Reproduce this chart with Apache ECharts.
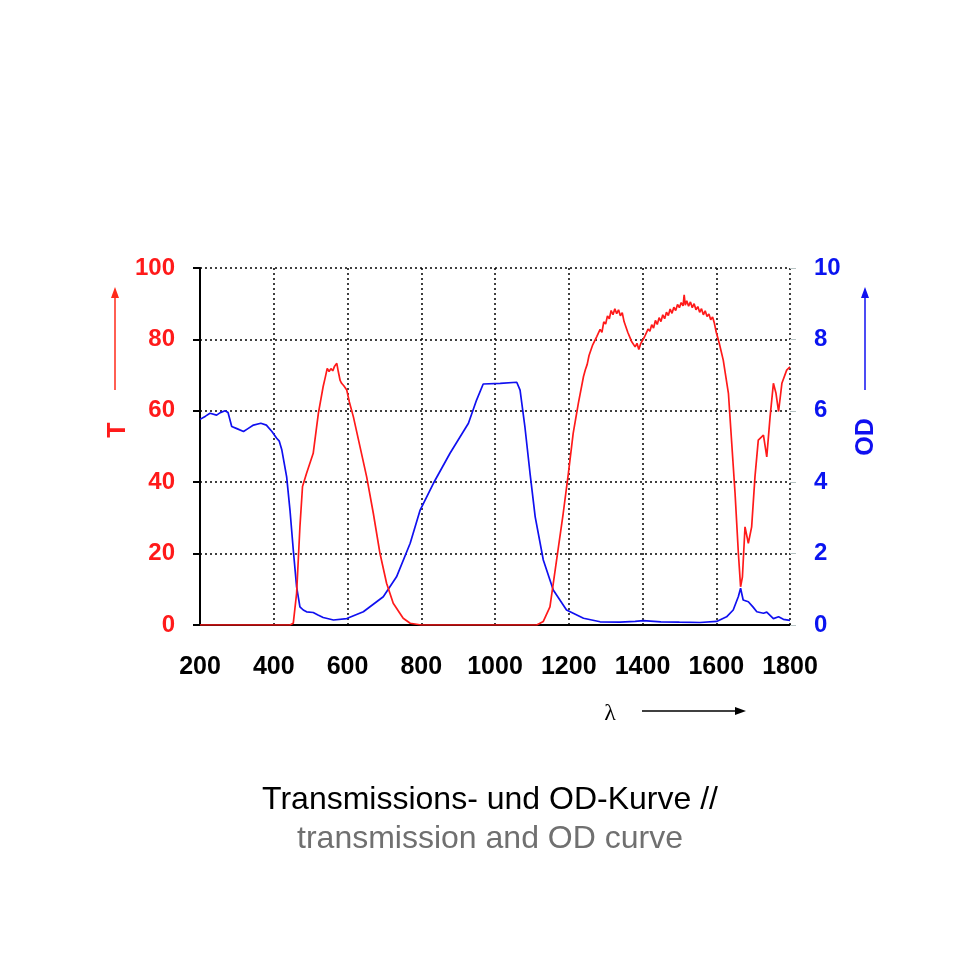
<!DOCTYPE html>
<html><head><meta charset="utf-8">
<script src="https://cdn.jsdelivr.net/npm/echarts@6/dist/echarts.min.js"></script>
<style>html,body{margin:0;padding:0;background:#fff}#c{width:980px;height:980px}</style>
</head><body><div id="c"></div>
<script>
// Wavelength (nm) and OD (blue, right axis)
const odWavelength = [200,215,227,245,255,268,276,286,300,318,330,345,365,380,395,408,415,422,435,444,453,462,471,480,489,507,520,534,562,598,643,697,733,770,797,833,878,928,950,968,1014,1059,1068,1081,1095,1109,1131,1158,1194,1240,1285,1339,1380,1402,1450,1500,1556,1601,1628,1646,1660,1666,1673,1687,1700,1710,1728,1737,1755,1769,1782,1800];
const odValues     = [5.76,5.85,5.93,5.88,5.95,6.0,5.95,5.56,5.5,5.42,5.5,5.6,5.65,5.6,5.42,5.23,5.15,4.9,4.15,3.22,2.1,1.07,0.51,0.42,0.37,0.35,0.28,0.21,0.14,0.18,0.37,0.79,1.35,2.29,3.22,3.97,4.81,5.65,6.3,6.75,6.77,6.8,6.58,5.56,4.25,3.03,1.82,0.98,0.42,0.19,0.09,0.08,0.1,0.12,0.09,0.08,0.07,0.1,0.23,0.42,0.8,1.03,0.7,0.65,0.5,0.37,0.33,0.36,0.18,0.23,0.16,0.13];
// Wavelength (nm) and transmission T in % (red, left axis)
const tWavelength = [200,444,453,462,471,478,489,507,521,534,540,545,550,555,560,565,571,575,580,584,590,598,605,616,634,652,670,688,706,724,751,770,800,1100,1113,1131,1149,1167,1185,1199,1212,1226,1240,1245,1250,1255,1260,1265,1270,1276,1280,1285,1290,1295,1300,1305,1310,1315,1320,1325,1330,1335,1340,1345,1350,1355,1360,1365,1370,1375,1380,1385,1390,1395,1400,1405,1410,1415,1420,1425,1430,1435,1440,1445,1450,1455,1460,1465,1470,1475,1480,1485,1490,1495,1500,1505,1510,1513,1516,1520,1525,1530,1535,1540,1545,1550,1555,1560,1565,1570,1575,1580,1585,1590,1595,1600,1608,1619,1633,1642,1651,1660,1666,1671,1678,1687,1696,1705,1714,1728,1737,1746,1755,1762,1769,1778,1791,1800];
const tValues     = [0,0,0.5,8.9,27.5,38.8,42.5,48.1,59.3,66.8,69.5,71.9,71.0,71.8,71.2,72.5,73.3,71.0,68.5,67.7,67.0,65.8,62.5,58.3,49.9,41.5,31.3,20.1,11.7,6.1,1.9,0.5,0,0,0,1,5.1,18.2,31.3,42.5,53.7,62.1,69.6,71.5,73.0,75.5,76.0,78.5,79.0,80.8,80.5,82.8,82.0,84.9,84.3,86.6,85.8,88.1,86.9,88.6,87.2,88.3,86.6,87.5,85.0,84.6,82.0,81.9,79.5,79.8,77.9,78.9,77.2,78.8,78.4,80.6,80.4,82.9,82.3,84.1,83.2,85.3,84.2,86.1,85.0,86.9,85.8,87.6,86.7,88.5,87.3,89.0,88.1,89.8,88.9,90.3,89.4,92.5,89.6,90.8,89.3,90.5,88.9,90.0,88.3,89.2,87.6,88.6,86.9,88.0,86.4,87.1,85.5,86.3,84.5,82.0,79.0,74.2,64.9,50.9,36.9,20.1,10.7,13.5,27.5,22.9,27.5,41.5,51.8,53.2,47.1,58.3,67.7,64.9,59.8,67.7,71.4,72.3];
// Tick ranges
const xTicks = {min:200, max:1800, step:200};
const tTicks = {min:0, max:100, step:20};
const odTicks = {min:0, max:10, step:2};

const chart = echarts.init(document.getElementById('c'), null, {renderer:'canvas'});
const dotted = {color:'#000', width:1.5, type:[2,3]};
const arrowHead = (x, y, dir, color) => {
  let pts;
  if (dir === 'up') pts = [[x, y], [x-4, y+11], [x+4, y+11]];
  else pts = [[x, y], [x-11, y-4], [x-11, y+4]];
  return {type:'polygon', shape:{points:pts}, style:{fill:color}};
};
chart.setOption({
  animation:false,
  backgroundColor:'#fff',
  grid:{left:200, top:268, width:590, height:357},
  xAxis:{type:'value', min:xTicks.min, max:xTicks.max, interval:xTicks.step,
    axisLine:{show:true, onZero:false, lineStyle:{color:'#000', width:2}},
    axisTick:{show:false},
    axisLabel:{color:'#000', fontFamily:'"Liberation Sans",Arial', fontWeight:'bold', fontSize:25, margin:30, formatter:v=>String(v)},
    splitLine:{show:true, lineStyle:dotted}},
  yAxis:[
    {type:'value', min:tTicks.min, max:tTicks.max, interval:tTicks.step, position:'left',
      axisLine:{show:true, lineStyle:{color:'#000', width:2}},
      axisTick:{show:true, inside:false, length:7, lineStyle:{color:'#000', width:2}},
      axisLabel:{color:'#ff1a1a', fontFamily:'"Liberation Sans",Arial', fontWeight:'bold', fontSize:24, margin:25},
      splitLine:{show:true, lineStyle:dotted}},
    {type:'value', min:odTicks.min, max:odTicks.max, interval:odTicks.step, position:'right',
      axisLine:{show:false},
      axisTick:{show:true, inside:false, length:6, lineStyle:{color:'#b8c4c4', width:1}},
      axisLabel:{color:'#0a14f0', fontFamily:'"Liberation Sans",Arial', fontWeight:'bold', fontSize:24, margin:24},
      splitLine:{show:false}}
  ],
  series:[
    {type:'line', yAxisIndex:1, showSymbol:false, symbol:'none',
      data:odWavelength.map((w,i)=>[w, odValues[i]]),
      lineStyle:{color:'#1010f0', width:1.7}, z:3},
    {type:'line', yAxisIndex:0, showSymbol:false, symbol:'none',
      data:tWavelength.map((w,i)=>[w, tValues[i]]),
      lineStyle:{color:'#ff1a1a', width:1.7}, z:4}
  ],
  graphic:[
    {type:'line', shape:{x1:115, y1:390, x2:115, y2:296}, style:{stroke:'#ff2a1a', lineWidth:1.5}},
    arrowHead(115, 287, 'up', '#ff2a1a'),
    {type:'text', x:118, y:430, rotation:Math.PI/2, style:{text:'T', fill:'#ff1a1a', font:'bold 25px "Liberation Sans",Arial', align:'center', verticalAlign:'middle'}},
    {type:'line', shape:{x1:865, y1:390, x2:865, y2:296}, style:{stroke:'#1010f0', lineWidth:1.5}},
    arrowHead(865, 287, 'up', '#1010f0'),
    {type:'text', x:866, y:437, rotation:Math.PI/2, style:{text:'OD', fill:'#1010f0', font:'bold 25px "Liberation Sans",Arial', align:'center', verticalAlign:'middle'}},
    {type:'text', x:610, y:714, style:{text:'λ', fill:'#000', font:'24px "Liberation Serif","Times New Roman",serif', align:'center', verticalAlign:'middle'}},
    {type:'line', shape:{x1:642, y1:711, x2:736, y2:711}, style:{stroke:'#000', lineWidth:1.5}},
    arrowHead(746, 711, 'right', '#000'),
    {type:'text', x:490, y:800, style:{text:'Transmissions- und OD-Kurve //', fill:'#000', font:'32px "Liberation Sans",Arial', align:'center', verticalAlign:'middle'}},
    {type:'text', x:490, y:839, style:{text:'transmission and OD curve', fill:'#707070', font:'32px "Liberation Sans",Arial', align:'center', verticalAlign:'middle'}}
  ]
});
</script></body></html>
